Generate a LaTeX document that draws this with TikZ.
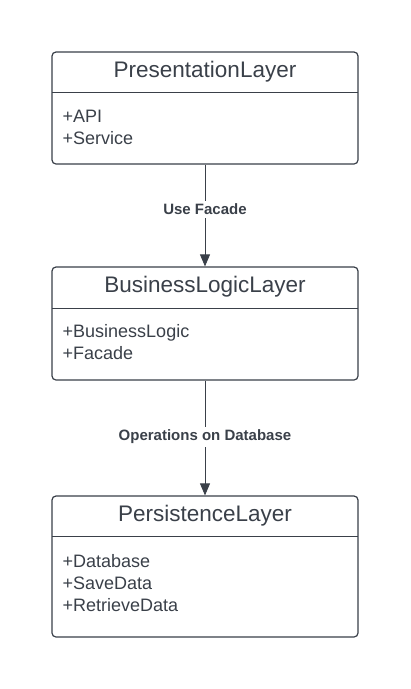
\documentclass[tikz,border=0pt]{standalone}
\usepackage{fontspec}
\setmainfont{Liberation Sans}
\usetikzlibrary{arrows.meta,positioning}
\definecolor{ink}{HTML}{3A4049}
\tikzset{
  layerbox/.style={draw=ink, line width=1.2pt, rounded corners=4pt, minimum width=306pt, inner sep=0pt},
  titletext/.style={text=ink, font=\fontsize{22.5}{26}\selectfont, inner sep=0pt, anchor=base},
  itemtext/.style={text=ink, font=\fontsize{18}{22}\selectfont, inner sep=0pt, anchor=base west},
  divider/.style={draw=ink, line width=1pt},
  conn/.style={draw=ink, line width=0.8pt, -{Triangle[length=12pt,width=10pt]}},
  connlabel/.style={text=ink, font=\bfseries\fontsize{15}{17}\selectfont, fill=white, inner sep=3pt}
}
\begin{document}
\begin{tikzpicture}[x=1pt,y=-1pt]
\useasboundingbox[fill=white] (0,0) rectangle (411,689);
% box 1
\node[layerbox, minimum height=112pt] (p) at (205,108) {};
\node[titletext] (pt) at (205,77) {PresentationLayer};
\coordinate (pdl) at (52,92);
\coordinate (pdr) at (358,92);
\draw[divider] (pdl) -- (pdr);
\node[itemtext] (pi1) at (62.5,122) {+API};
\node[itemtext] (pi2) at (62.5,144) {+Service};
% box 2
\node[layerbox, minimum height=113pt] (b) at (205,323.5) {};
\node[titletext] (bt) at (205,292) {BusinessLogicLayer};
\coordinate (bdl) at (52,308);
\coordinate (bdr) at (358,308);
\draw[divider] (bdl) -- (bdr);
\node[itemtext] (bi1) at (62.5,337) {+BusinessLogic};
\node[itemtext] (bi2) at (62.5,359) {+Facade};
% box 3
\node[layerbox, minimum height=141pt] (s) at (205,566.5) {};
\node[titletext] (st) at (205,521) {PersistenceLayer};
\coordinate (sdl) at (52,536);
\coordinate (sdr) at (358,536);
\draw[divider] (sdl) -- (sdr);
\node[itemtext] (si1) at (62.5,567) {+Database};
\node[itemtext] (si2) at (62.5,589) {+SaveData};
\node[itemtext] (si3) at (62.5,611) {+RetrieveData};
% connectors
\draw[conn] (p.south) -- node[connlabel, pos=0.44] {Use Facade} (b.north);
\draw[conn] (b.south) -- node[connlabel, pos=0.49] {Operations on Database} (s.north);
\end{tikzpicture}
\end{document}
